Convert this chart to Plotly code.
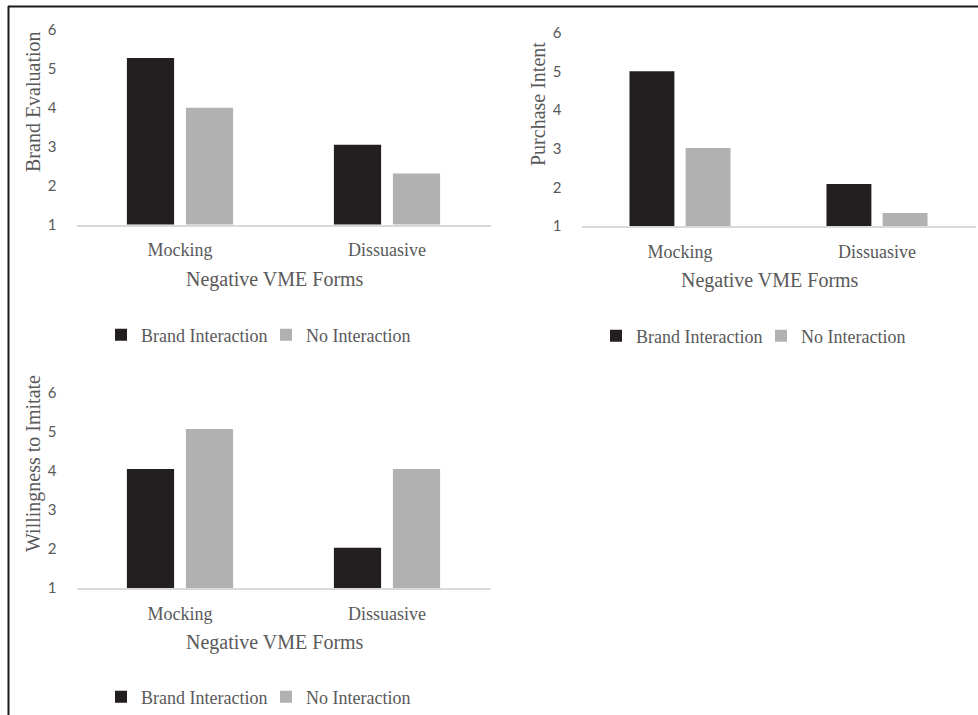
import plotly.graph_objects as go

categories = ["Mocking", "Dissuasive"]
series_names = ["Brand Interaction", "No Interaction"]

brand_eval_bi = [5.28, 3.05]
brand_eval_ni = [4.00, 2.31]
purchase_bi = [5.01, 2.09]
purchase_ni = [3.02, 1.34]
imitate_bi = [4.05, 2.03]
imitate_ni = [5.08, 4.05]

y_titles = ["Brand Evaluation", "Purchase Intent", "Willingness to Imitate"]
x_title = "Negative VME Forms"
y_ticks = [1, 2, 3, 4, 5, 6]

W, H = 978, 715
DARK = "#231F20"
GREY = "#B1B1B1"
TXT = "#595959"
SERIF = "Liberation Serif, Times New Roman, serif"
SANS = "Lato, Open Sans, sans-serif"

def px(x):
    return x / W

def py(y):
    return 1 - y / H

panels = [
    dict(bi=brand_eval_bi, ni=brand_eval_ni, xd=(76.5, 490.5), yd=(224.5, 30),
         yt=(33, 102), xt=(275, 279), leg=(101, 335)),
    dict(bi=purchase_bi, ni=purchase_ni, xd=(581.5, 975.5), yd=(226, 33),
         yt=(538, 104), xt=(770, 280), leg=(596, 336)),
    dict(bi=imitate_bi, ni=imitate_ni, xd=(76.5, 490.5), yd=(588, 393),
         yt=(33, 464), xt=(275, 642), leg=(101, 697)),
]

fig = go.Figure()
annotations = []
layout = {}
for i, p in enumerate(panels):
    n = "" if i == 0 else str(i + 1)
    legname = "legend" + n
    fig.add_trace(go.Bar(x=categories, y=p["bi"], name=series_names[0],
                         marker=dict(color=DARK, line=dict(width=0)),
                         xaxis="x" + n, yaxis="y" + n, legend=legname))
    fig.add_trace(go.Bar(x=categories, y=p["ni"], name=series_names[1],
                         marker=dict(color=GREY, line=dict(width=0)),
                         xaxis="x" + n, yaxis="y" + n, legend=legname))
    layout["xaxis" + n] = dict(
        domain=[px(p["xd"][0]), px(p["xd"][1])], anchor="y" + n,
        showline=True, linecolor="#D9D9D9", linewidth=2, showgrid=False,
        zeroline=False, ticks="outside", ticklen=8, tickcolor="rgba(0,0,0,0)",
        tickfont=dict(family=SERIF, size=18, color=TXT), fixedrange=True)
    layout["yaxis" + n] = dict(
        domain=[py(p["yd"][0]), py(p["yd"][1])], anchor="x" + n,
        range=[1, 6], tickvals=y_ticks, showgrid=False, zeroline=False,
        showline=False, ticks="outside", ticklen=16, tickcolor="rgba(0,0,0,0)",
        tickfont=dict(family=SANS, size=15, color=TXT), fixedrange=True)
    layout[legname] = dict(
        orientation="h", x=px(p["leg"][0]), y=py(p["leg"][1]),
        xanchor="left", yanchor="middle", bgcolor="rgba(0,0,0,0)",
        font=dict(family=SERIF, size=18, color=TXT), traceorder="normal",
        entrywidth=120, entrywidthmode="pixels",
        itemclick=False, itemdoubleclick=False)
    annotations.append(dict(text=y_titles[i], x=px(p["yt"][0]), y=py(p["yt"][1]),
                            xref="paper", yref="paper", showarrow=False,
                            textangle=-90, xanchor="center", yanchor="middle",
                            font=dict(family=SERIF, size=20, color=TXT)))
    annotations.append(dict(text=x_title, x=px(p["xt"][0]), y=py(p["xt"][1]),
                            xref="paper", yref="paper", showarrow=False,
                            xanchor="center", yanchor="middle",
                            font=dict(family=SERIF, size=20, color=TXT)))

shapes = [
    dict(type="line", xref="paper", yref="paper", x0=px(8), x1=1.0,
         y0=py(6.5), y1=py(6.5), line=dict(color="#1a1a1a", width=2)),
    dict(type="line", xref="paper", yref="paper", x0=px(8.5), x1=px(8.5),
         y0=py(6), y1=0, line=dict(color="#1a1a1a", width=2)),
]

fig.update_layout(
    width=W, height=H, margin=dict(l=0, r=0, t=0, b=0, autoexpand=False),
    paper_bgcolor="white", plot_bgcolor="white",
    barmode="group", bargap=0.43, bargroupgap=0.2,
    annotations=annotations, shapes=shapes, showlegend=True,
    **layout)

post = (
    "document.documentElement.style.margin='0';"
    "document.documentElement.style.padding='0';"
    "document.documentElement.style.overflow='hidden';"
    "document.body.style.margin='0';"
    "document.body.style.padding='0';"
    "document.body.style.overflow='hidden';"
    "var d=document.getElementById('{plot_id}');"
    "d.style.position='fixed';d.style.top='0px';d.style.left='0px';"
)
fig.write_html("out.html", config={"displayModeBar": False}, post_script=post)
